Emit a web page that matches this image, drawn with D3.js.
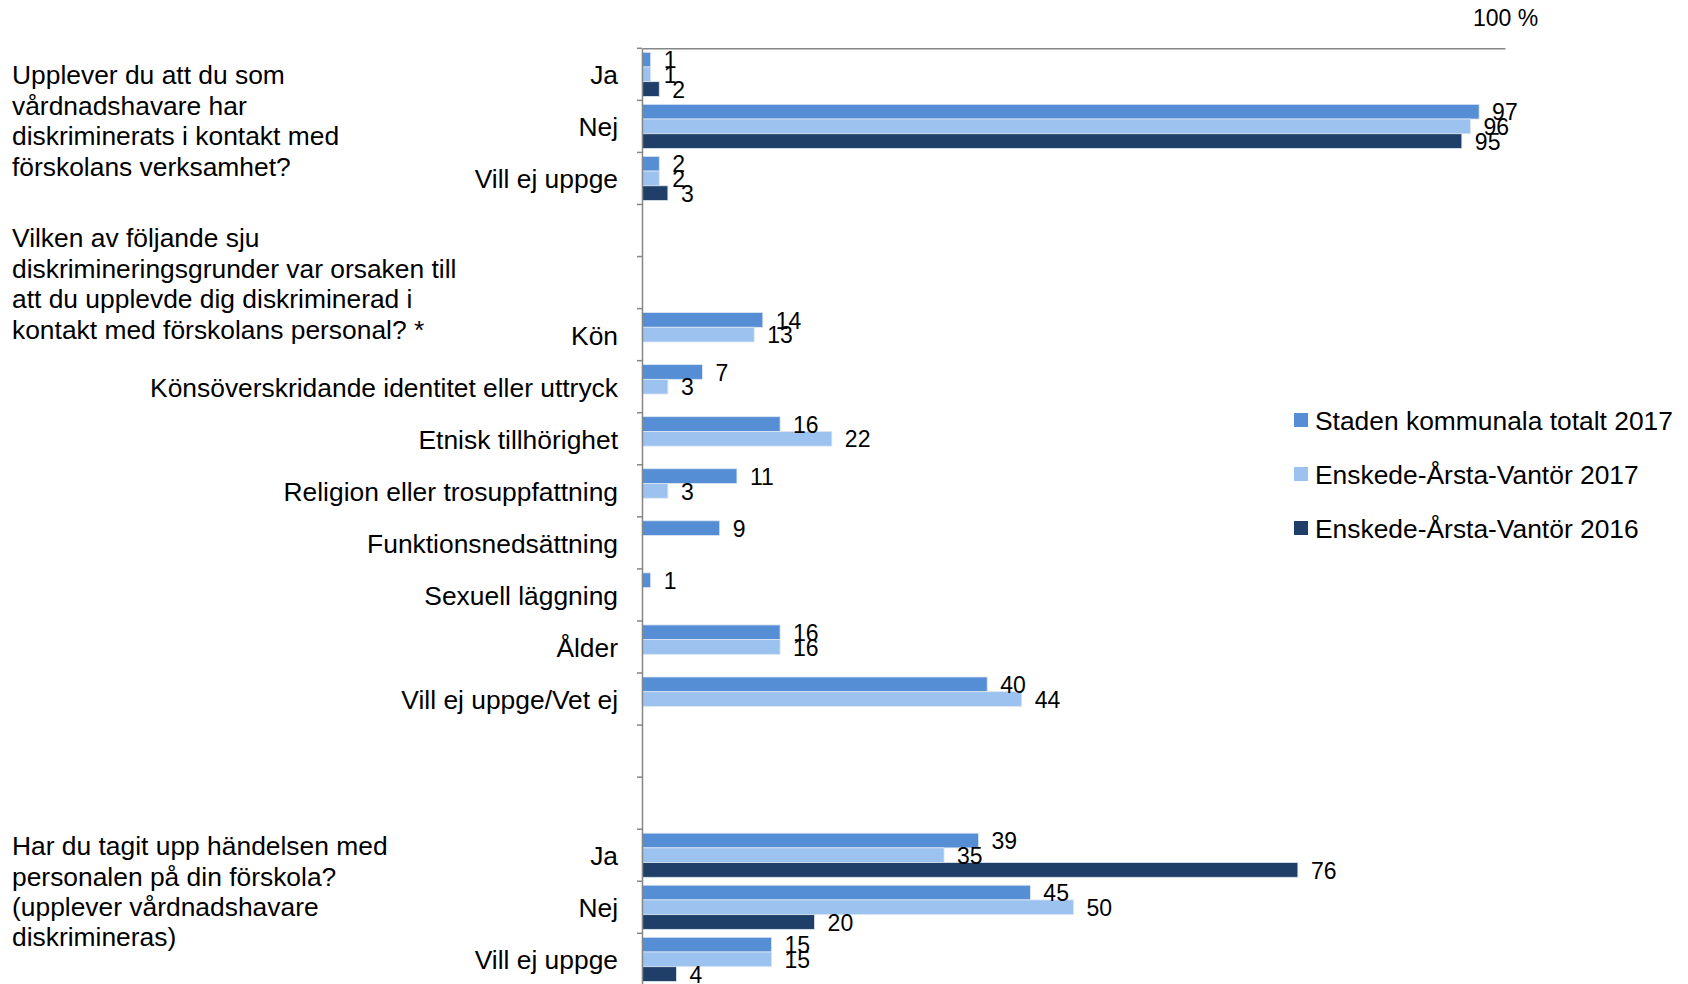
<!DOCTYPE html>
<html>
<head>
<meta charset="utf-8">
<title>Diskriminering - vårdnadshavare</title>
<script src="https://d3js.org/d3.v7.min.js"></script>
<style>
  body { margin: 0; background: #fff; overflow: hidden; }
  svg { font-family: "Liberation Sans", Arial, sans-serif; display: block; }
</style>
</head>
<body>
<svg width="1688" height="984"></svg>
<script>
// row labels (empty string = spacer row)
var categories = [
  'Ja', 'Nej', 'Vill ej uppge', '', '',
  'Kön', 'Könsöverskridande identitet eller uttryck', 'Etnisk tillhörighet',
  'Religion eller trosuppfattning', 'Funktionsnedsättning', 'Sexuell läggning',
  'Ålder', 'Vill ej uppge/Vet ej', '', '',
  'Ja', 'Nej', 'Vill ej uppge'
];

var seriesNames = ['Staden kommunala totalt 2017', 'Enskede-Årsta-Vantör 2017', 'Enskede-Årsta-Vantör 2016'];

// percent per row, null = no bar
var staden2017 = [1, 97, 2, null, null, 14, 7, 16, 11, 9, 1, 16, 40, null, null, 39, 45, 15];
var eav2017    = [1, 96, 2, null, null, 13, 3, 22, 3, null, null, 16, 44, null, null, 35, 50, 15];
var eav2016    = [2, 95, 3, null, null, null, null, null, null, null, null, null, null, null, null, 76, 20, 4];

var questions = [
  {row: 0, lines: ['Upplever du att du som', 'vårdnadshavare har', 'diskriminerats i kontakt med', 'förskolans verksamhet?']},
  {row: 3, lines: ['Vilken av följande sju', 'diskrimineringsgrunder var orsaken till', 'att du upplevde dig diskriminerad i', 'kontakt med förskolans personal? *']},
  {row: 15, lines: ['Har du tagit upp händelsen med', 'personalen på din förskola?', '(upplever vårdnadshavare', 'diskrimineras)']}
];
var qOffset = [36, 43, 26];

var colors = ['#558ED5', '#9CC2EF', '#1F3F68'];
var seriesValues = [staden2017, eav2017, eav2016];

var svg = d3.select('svg');
var x0 = 642, x1 = 1505, plotTop = 48.3, rowH = 52.06;

var x = d3.scaleLinear().domain([0, 100]).range([x0, x1]);
var y = d3.scaleBand()
  .domain(d3.range(categories.length))
  .range([plotTop, plotTop + rowH * categories.length]);
var ySub = d3.scaleBand()
  .domain([0, 1, 2])
  .range([0, y.bandwidth()])
  .paddingOuter(0.27);

// top value axis, only 100 %
var xAxis = svg.append('g')
  .attr('transform', 'translate(0,' + plotTop + ')')
  .call(d3.axisTop(x).tickValues([100]).tickFormat(function(d) { return d + ' %'; })
    .tickSize(0).tickSizeOuter(0).tickPadding(22));
xAxis.select('.domain').attr('stroke', '#868686').attr('stroke-width', 1.5);
xAxis.selectAll('text').attr('font-size', 23).attr('fill', '#000')
  .style('font-family', '"Liberation Sans", Arial, sans-serif');

// bars
var rows = categories.map(function(c, i) {
  return seriesValues.map(function(s, j) { return {row: i, s: j, v: s[i]}; })
    .filter(function(d) { return d.v !== null; });
});

var g = svg.selectAll('.row')
  .data(rows)
  .enter().append('g')
  .attr('class', 'row')
  .attr('transform', function(d, i) { return 'translate(0,' + y(i) + ')'; });

g.selectAll('rect')
  .data(function(d) { return d; })
  .enter().append('rect')
  .attr('x', x(0))
  .attr('y', function(d) { return ySub(d.s); })
  .attr('width', function(d) { return x(d.v) - x(0); })
  .attr('height', ySub.bandwidth())
  .attr('fill', function(d) { return colors[d.s]; })
  .attr('stroke', '#dce6f2')
  .attr('stroke-width', 0.8);

g.selectAll('text')
  .data(function(d) { return d; })
  .enter().append('text')
  .attr('x', function(d) { return x(d.v) + 13; })
  .attr('y', function(d) { return ySub(d.s) + ySub.bandwidth() / 2; })
  .attr('dy', '0.38em')
  .attr('font-size', 23)
  .text(function(d) { return d.v; });

// category axis
var yAxis = svg.append('g')
  .attr('transform', 'translate(' + x0 + ',0)')
  .call(d3.axisLeft(y).tickSize(0).tickSizeOuter(0).tickPadding(24)
    .tickFormat(function(i) { return categories[i]; }));
yAxis.select('.domain').attr('stroke', '#868686').attr('stroke-width', 1.5);
yAxis.selectAll('text').attr('font-size', 26.4).attr('fill', '#000').attr('dy', '0.38em')
  .style('font-family', '"Liberation Sans", Arial, sans-serif');

// tick marks between rows
svg.append('g').selectAll('line')
  .data(d3.range(categories.length + 1))
  .enter().append('line')
  .attr('x1', x0 - 5).attr('x2', x0)
  .attr('y1', function(i) { return plotTop + i * y.step(); })
  .attr('y2', function(i) { return plotTop + i * y.step(); })
  .attr('stroke', '#868686').attr('stroke-width', 1.5);

// question texts
questions.forEach(function(q, k) {
  var t = svg.append('text')
    .attr('x', 12)
    .attr('y', y(q.row) + qOffset[k])
    .attr('font-size', 26.4);
  t.selectAll('tspan')
    .data(q.lines)
    .enter().append('tspan')
    .attr('x', 12)
    .attr('dy', function(d, i) { return i === 0 ? 0 : 30.4; })
    .text(function(d) { return d; });
});

// legend
var legend = svg.append('g')
  .selectAll('g')
  .data(seriesNames)
  .enter().append('g')
  .attr('transform', function(d, i) { return 'translate(1294,' + (420 + i * 54) + ')'; });
legend.append('rect')
  .attr('x', 0).attr('y', -7).attr('width', 14).attr('height', 14)
  .attr('fill', function(d, i) { return colors[i]; });
legend.append('text')
  .attr('x', 21).attr('dy', '0.36em')
  .attr('font-size', 26.4)
  .text(function(d) { return d; });
</script>
</body>
</html>
